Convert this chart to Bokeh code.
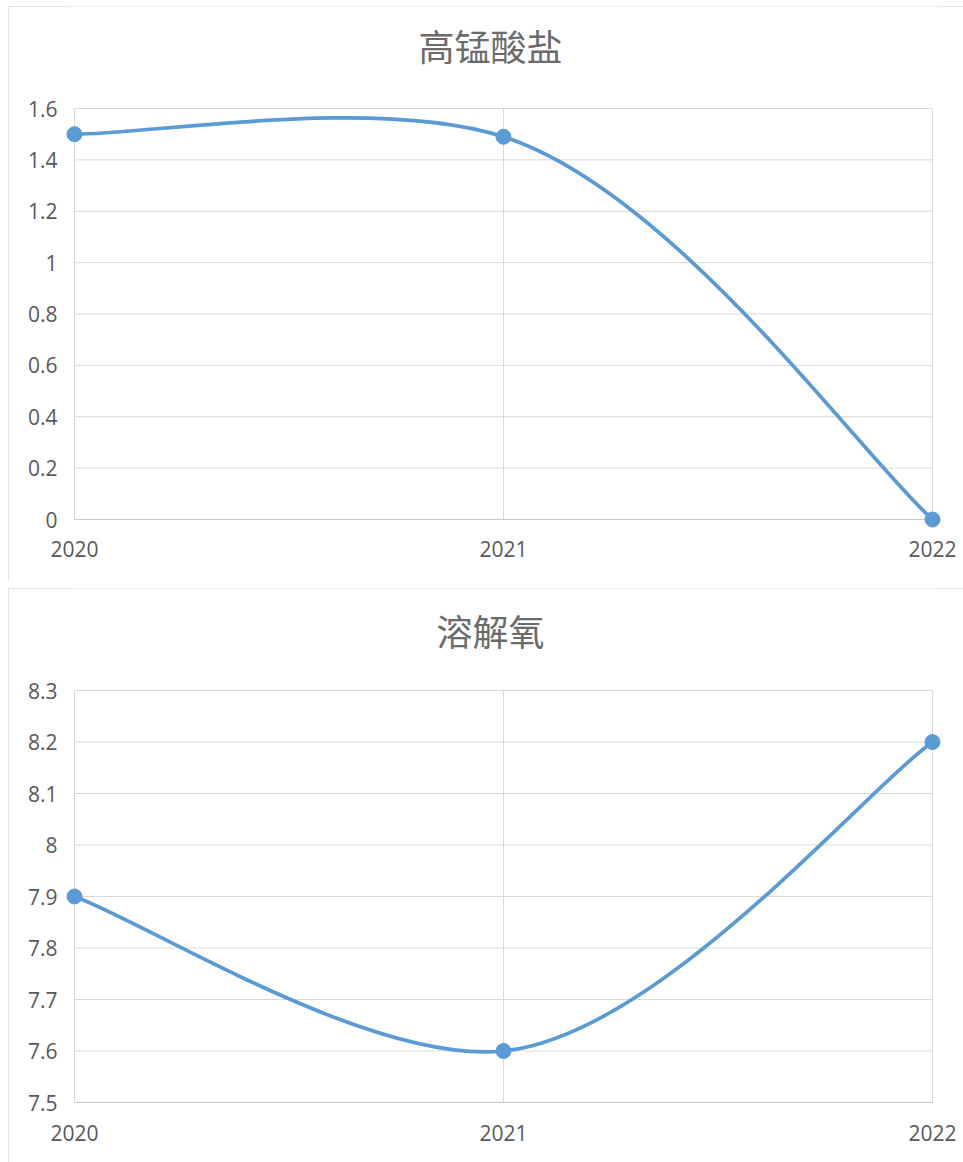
import math
from bokeh.plotting import figure
from bokeh.layouts import column
from bokeh.models import Range1d, FixedTicker, CustomJSTickFormatter
from bokeh.core.properties import value
from bokeh.embed import file_html
from bokeh.resources import INLINE

# ---- data ----
years = [2020, 2021, 2022]
title1 = "高锰酸盐"
values1 = [1.5, 1.49, 0.0]
yticks1 = [0, 0.2, 0.4, 0.6, 0.8, 1.0, 1.2, 1.4, 1.6]

title2 = "溶解氧"
values2 = [7.9, 7.6, 8.2]
yticks2 = [7.5, 7.6, 7.7, 7.8, 7.9, 8.0, 8.1, 8.2, 8.3]

BLUE = "#5b9bd5"
GRID = "#d9d9d9"
TXT = "#595959"
FONT = "Open Sans"
CJK = "Noto Sans CJK SC"

W = 955
H = 574
FRAME_W = 858
PAD = 10  # px of room around the plot area so edge markers are not clipped


def smooth_segments(xs, ys, sx, sy):
    """Chordal Catmull-Rom -> cubic Bezier, computed in pixel metric."""
    P = [(x * sx, y * sy) for x, y in zip(xs, ys)]
    n = len(P)
    d = [math.hypot(P[i + 1][0] - P[i][0], P[i + 1][1] - P[i][1]) for i in range(n - 1)]
    m = [None] * n
    for i in range(1, n - 1):
        a, b = d[i - 1], d[i]
        m[i] = tuple(
            (P[i][k] - P[i - 1][k]) / a
            - (P[i + 1][k] - P[i - 1][k]) / (a + b)
            + (P[i + 1][k] - P[i][k]) / b
            for k in range(2)
        )
    seg = dict(x0=[], y0=[], x1=[], y1=[], cx0=[], cy0=[], cx1=[], cy1=[])
    for i in range(n - 1):
        p, q = P[i], P[i + 1]
        if m[i] is None:
            c0 = tuple(p[k] + (q[k] - p[k]) / 6 for k in range(2))
        else:
            c0 = tuple(p[k] + m[i][k] * d[i] / 3 for k in range(2))
        if m[i + 1] is None:
            c1 = tuple(q[k] - (q[k] - p[k]) / 6 for k in range(2))
        else:
            c1 = tuple(q[k] - m[i + 1][k] * d[i] / 3 for k in range(2))
        seg["x0"].append(xs[i]); seg["y0"].append(ys[i])
        seg["x1"].append(xs[i + 1]); seg["y1"].append(ys[i + 1])
        seg["cx0"].append(c0[0] / sx); seg["cy0"].append(c0[1] / sy)
        seg["cx1"].append(c1[0] / sx); seg["cy1"].append(c1[1] / sy)
    return seg


def make_chart(title, vals, yticks, frame_top, frame_h, title_y, xlab_standoff, margin):
    sx = FRAME_W / (years[-1] - years[0])
    sy = frame_h / (yticks[-1] - yticks[0])
    padx = PAD / sx
    pady = PAD / sy
    left = 66 - PAD
    fh = frame_top + frame_h + PAD          # frame runs from the top of the figure
    p = figure(width=W, height=H, output_backend="svg", toolbar_location=None,
               x_range=Range1d(years[0] - padx, years[-1] + padx),
               y_range=Range1d(yticks[0] - pady, yticks[-1] + frame_top / sy),
               min_border_left=left, min_border_right=W - left - FRAME_W - 2 * PAD,
               min_border_top=0, min_border_bottom=H - fh)
    p.margin = margin
    p.styles = {"outline": "2px solid #d9d9d9", "outline-offset": "-2px"}
    p.outline_line_color = None
    p.background_fill_color = "white"
    p.border_fill_color = "white"
    p.grid.grid_line_color = None

    # chart title, placed in the empty band above the plot area
    tx = years[0] + (482 - 66) / sx
    ty = yticks[-1] + (frame_top - title_y) / sy
    p.text(x=[tx], y=[ty], text=[title], text_align="center", text_baseline="middle",
           text_font=value(CJK), text_font_size="36px", text_color="#6b6b6b")

    p.xaxis.ticker = FixedTicker(ticks=years)
    p.yaxis.ticker = FixedTicker(ticks=yticks)
    p.yaxis.formatter = CustomJSTickFormatter(code="return String(Math.round(tick*10)/10);")
    p.xaxis.formatter = CustomJSTickFormatter(code="return String(Math.round(tick));")
    for ax in (p.xaxis, p.yaxis):
        ax.axis_line_color = None
        ax.major_tick_line_color = None
        ax.minor_tick_line_color = None
        ax.major_tick_out = 0
        ax.major_tick_in = 0
        ax.major_label_text_font = FONT
        ax.major_label_text_font_size = "21px"
        ax.major_label_text_color = TXT
    p.yaxis.major_label_standoff = 7
    p.xaxis.major_label_standoff = xlab_standoff

    # gridlines limited to the data area
    p.segment(x0=[years[0]] * len(yticks), x1=[years[-1]] * len(yticks),
              y0=yticks, y1=yticks, line_color=GRID, line_width=1)
    p.segment(x0=years, x1=years, y0=[yticks[0]] * len(years), y1=[yticks[-1]] * len(years),
              line_color=GRID, line_width=1)
    p.segment(x0=[years[0]], x1=[years[-1]], y0=[yticks[0]], y1=[yticks[0]],
              line_color="#c8c8c8", line_width=1)

    seg = smooth_segments(years, vals, sx, sy)
    p.bezier(line_color=BLUE, line_width=3.7, **seg)
    p.scatter(years, vals, size=15, color=BLUE)
    return p


p1 = make_chart(title1, values1, yticks1, 102, 411, 38, 11, (6, 0, 0, 8))
p2 = make_chart(title2, values2, yticks2, 102, 412, 41, 12, (8, 0, 0, 8))

layout = column(p1, p2, spacing=0)
open("out.html", "w").write(file_html(layout, INLINE))
